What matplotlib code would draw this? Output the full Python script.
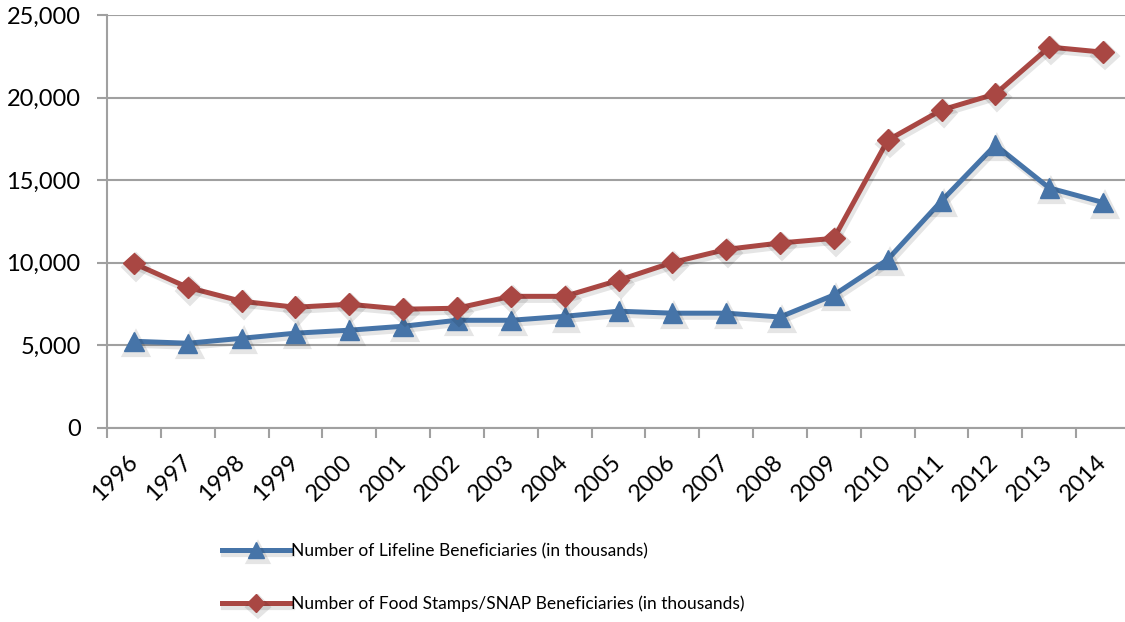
import matplotlib
matplotlib.use("Agg")
import matplotlib.pyplot as plt
import matplotlib.patheffects as pe

years = ['1996', '1997', '1998', '1999', '2000', '2001', '2002', '2003', '2004', '2005',
         '2006', '2007', '2008', '2009', '2010', '2011', '2012', '2013', '2014']
lifeline = [5250, 5130, 5430, 5740, 5920, 6160, 6520, 6520, 6760, 7070,
            6950, 6950, 6720, 8050, 10200, 13750, 17130, 14530, 13650]
snap = [9960, 8510, 7670, 7310, 7490, 7190, 7250, 7970, 7970, 8940,
        10020, 10810, 11200, 11480, 17420, 19250, 20220, 23060, 22750]

plt.rcParams['font.family'] = ['Lato', 'DejaVu Sans']

fig = plt.figure(figsize=(11.25, 6.22), dpi=100)
ax = fig.add_axes([107/1125, 194/622, 1023/1125, 413/622])

shadow = [pe.SimpleLineShadow(offset=(1.5, -2.5), shadow_color='k', alpha=0.1, linewidth=4.5),
          pe.Normal()]
x = range(len(years))
ax.plot(x, lifeline, color='#4674a8', lw=3.6, marker='^', ms=14, mec='#4674a8',
        label='Number of Lifeline Beneficiaries (in thousands)', path_effects=shadow, zorder=3)
ax.plot(x, snap, color='#a94743', lw=3.6, marker='D', ms=11, mec='#a94743',
        label='Number of Food Stamps/SNAP Beneficiaries (in thousands)', path_effects=shadow, zorder=3)

ax.set_xlim(-0.5, len(years) - 0.5)
ax.set_ylim(0, 25000)
ax.set_yticks(range(0, 25001, 5000))
ax.set_yticklabels(['{:,}'.format(v) for v in range(0, 25001, 5000)], fontsize=17)
ax.set_xticks([i - 0.5 for i in range(len(years) + 1)])
ax.set_xticklabels([])
ax.set_xticks(list(x), minor=True)
ax.set_xticklabels(years, minor=True, rotation=45, ha='right', va='center',
                   rotation_mode='anchor', fontsize=17)
ax.tick_params(axis='x', which='minor', length=0, pad=22)
ax.tick_params(axis='x', which='major', length=7, width=1.5, color='#a0a0a0')
ax.tick_params(axis='y', length=7, width=1.5, color='#a0a0a0', pad=12)

ax.grid(axis='y', color='#a0a0a0', lw=1.5)
ax.set_axisbelow(True)
for s in ['top', 'right']:
    ax.spines[s].set_visible(False)
for s in ['left', 'bottom']:
    ax.spines[s].set_color('#a0a0a0')
    ax.spines[s].set_linewidth(1.5)

fig.legend(loc='upper left', bbox_to_anchor=(222/1125, 1 - 543/622), frameon=False,
           fontsize=12.5, handlelength=3.9, handletextpad=0.1, labelspacing=2.1,
           borderpad=0, borderaxespad=0, markerscale=0.8)

fig.savefig('out.png', dpi=100)
